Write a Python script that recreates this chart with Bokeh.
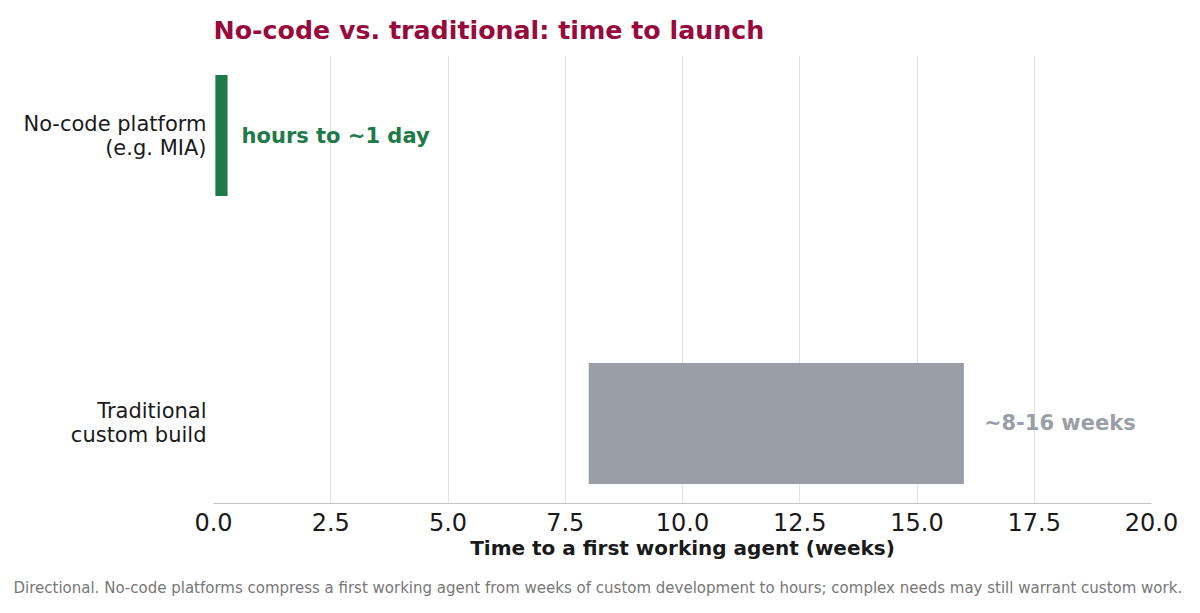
from bokeh.plotting import figure
from bokeh.models import ColumnDataSource, FixedTicker, Title, Range1d, CustomJSTickFormatter
from bokeh.core.properties import value
from bokeh.embed import file_html
from bokeh.resources import INLINE

# ---- data ----
categories = ["Traditional\ncustom build", "No-code platform\n(e.g. MIA)"]
start_weeks = [8.0, 0.04]
end_weeks = [16.0, 0.3]
bar_labels = ["~8-16 weeks", "hours to ~1 day"]
bar_colors = ["#9a9fa7", "#1e7a48"]
x_ticks = [0.0, 2.5, 5.0, 7.5, 10.0, 12.5, 15.0, 17.5, 20.0]
title_text = "No-code vs. traditional: time to launch"
x_label = "Time to a first working agent (weeks)"
footnote = ("Directional. No-code platforms compress a first working agent from weeks of custom "
            "development to hours; complex needs may still warrant custom work.")

FONT = "DejaVu Sans"

ypos = list(range(len(categories)))
y_lo, y_hi = -0.278, len(categories) - 1 + 0.278
src = ColumnDataSource(dict(y=ypos, left=start_weeks, right=end_weeks,
                            label=bar_labels, color=bar_colors))

p = figure(width=1200, height=613, y_range=Range1d(y_lo, y_hi),
           x_range=Range1d(0, 20),
           output_backend="svg", toolbar_location=None,
           min_border_left=213, min_border_right=49, min_border_top=55, min_border_bottom=110)
p.outline_line_color = None
p.background_fill_color = "white"
p.border_fill_color = "white"

p.hbar(y="y", left="left", right="right", height=0.42, color="color", line_color=None, source=src)

# annotations next to bars
green = ColumnDataSource(dict(x=[end_weeks[1]], y=[ypos[1]], t=[bar_labels[1]]))
grey = ColumnDataSource(dict(x=[end_weeks[0]], y=[ypos[0]], t=[bar_labels[0]]))
p.text(x="x", y="y", text="t", source=green, x_offset=14, text_baseline="middle",
       text_font=value(FONT), text_font_style="bold", text_font_size="21px", text_color=bar_colors[1])
p.text(x="x", y="y", text="t", source=grey, x_offset=20, text_baseline="middle",
       text_font=value(FONT), text_font_style="bold", text_font_size="21px", text_color=bar_colors[0])

# grid
p.ygrid.grid_line_color = None
p.xgrid.grid_line_color = "#e3e3e3"
p.xgrid.ticker = FixedTicker(ticks=x_ticks)

# x axis
p.xaxis.ticker = FixedTicker(ticks=x_ticks)
p.xaxis.formatter = CustomJSTickFormatter(code="return tick.toFixed(1);")
p.xaxis.axis_line_color = "#c4c4c4"
p.xaxis.axis_line_width = 1.2
p.xaxis.major_tick_line_color = None
p.xaxis.minor_tick_line_color = None
p.xaxis.major_label_text_font = FONT
p.xaxis.major_label_text_font_size = "24px"
p.xaxis.major_label_text_color = "#1a1a1a"
p.xaxis.major_label_standoff = 3
p.xaxis.axis_label = x_label
p.xaxis.axis_label_text_font = FONT
p.xaxis.axis_label_text_font_style = "bold"
p.xaxis.axis_label_text_font_size = "20px"
p.xaxis.axis_label_text_color = "#1a1a1a"
p.xaxis.axis_label_standoff = 2

# y axis
p.yaxis.ticker = FixedTicker(ticks=ypos)
p.yaxis.major_label_overrides = {i: c for i, c in zip(ypos, categories)}
p.yaxis.axis_line_color = None
p.yaxis.major_tick_line_color = None
p.yaxis.minor_tick_line_color = None
p.yaxis.major_label_text_font = FONT
p.yaxis.major_label_text_font_size = "21px"
p.yaxis.major_label_text_line_height = 1.0
p.yaxis.major_label_text_color = "#1a1a1a"
p.yaxis.major_label_standoff = 1

# title
t = Title(text=title_text, align="left", vertical_align="top", text_font=FONT,
          text_font_style="bold", text_font_size="25.3px", text_color="#990a3c", standoff=18)
p.add_layout(t, "above")

# footnote
fn = Title(text=footnote, align="left", text_font=FONT, text_font_style="normal",
           text_font_size="15px", text_color="#777777", offset=-200, standoff=28)
p.add_layout(fn, "below")

open("out.html", "w").write(file_html(p, INLINE))
